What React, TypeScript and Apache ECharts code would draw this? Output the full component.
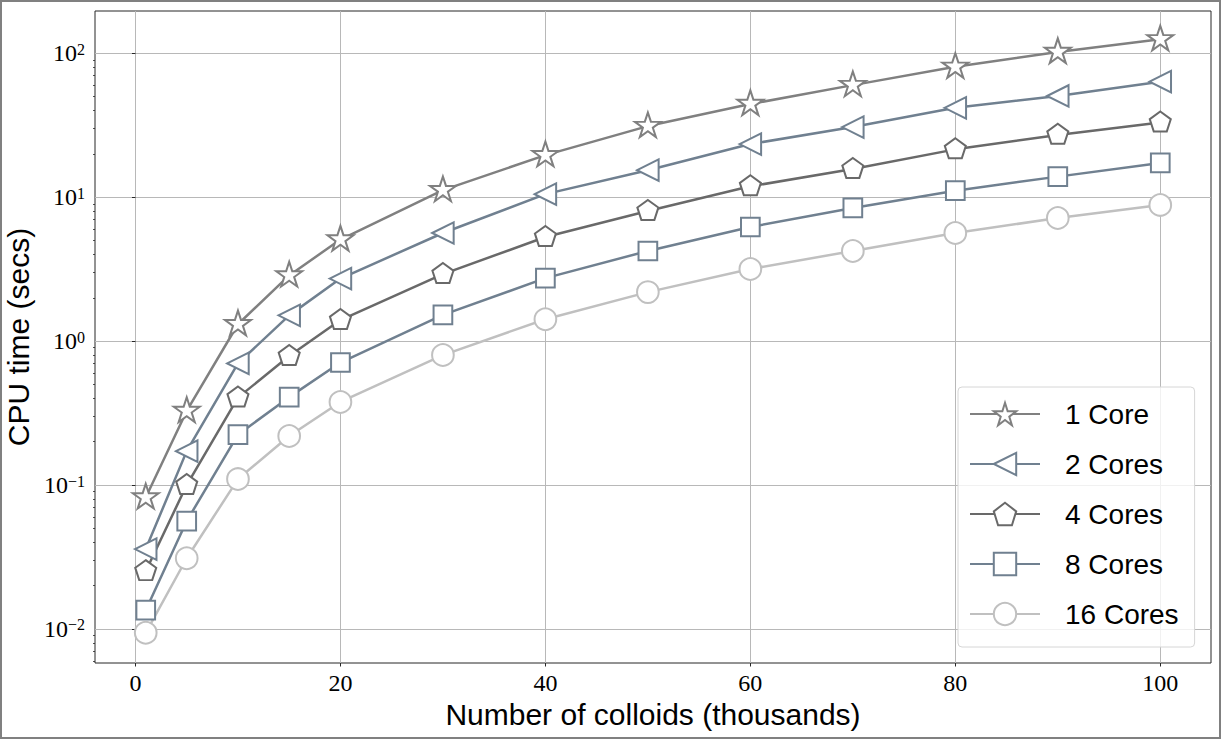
import React, { useEffect, useRef } from 'react';
import * as echarts from 'echarts';

const colloids = [1, 5, 10, 15, 20, 30, 40, 50, 60, 70, 80, 90, 100];
const core1 = [0.082, 0.327, 1.31, 2.86, 5.08, 11.2, 19.6, 31.2, 44.4, 60.1, 80.5, 102, 125];
const core2 = [0.0359, 0.172, 0.70, 1.51, 2.72, 5.64, 10.5, 15.4, 23.4, 30.7, 41.8, 50.5, 63.5];
const core4 = [0.0252, 0.100, 0.405, 0.787, 1.40, 2.92, 5.29, 8.02, 11.9, 15.7, 21.5, 27.1, 33.0];
const core8 = [0.0135, 0.0562, 0.224, 0.408, 0.71, 1.52, 2.74, 4.23, 6.21, 8.42, 11.1, 13.9, 17.3];
const core16 = [0.0094, 0.031, 0.110, 0.219, 0.378, 0.80, 1.42, 2.19, 3.17, 4.23, 5.64, 7.17, 8.84];

const seriesNames = ['1 Core', '2 Cores', '4 Cores', '8 Cores', '16 Cores'];
const seriesValues = [core1, core2, core4, core8, core16];
const seriesColors = ['#808080', '#708090', '#696969', '#708090', '#c0c0c0'];

const xTicks = [0, 20, 40, 60, 80, 100];
const yTicks = [0.01, 0.1, 1, 10, 100];
const yMinorTicks = [
  0.006, 0.007, 0.008, 0.009,
  0.02, 0.03, 0.04, 0.05, 0.06, 0.07, 0.08, 0.09,
  0.2, 0.3, 0.4, 0.5, 0.6, 0.7, 0.8, 0.9,
  2, 3, 4, 5, 6, 7, 8, 9,
  20, 30, 40, 50, 60, 70, 80, 90,
];

const X_MIN = -3.95;
const X_MAX = 104.95;
const Y_MIN = 0.0058;
const Y_MAX = 196.7;

const STAR = 'path://M0,-100 L22.45,-30.9 L95.11,-30.9 L36.33,11.8 L58.78,80.9 L0,38.2 L-58.78,80.9 L-36.33,11.8 L-95.11,-30.9 L-22.45,-30.9 Z';
const PENTAGON = 'path://M0,-100 L95.11,-30.9 L58.78,80.9 L-58.78,80.9 L-95.11,-30.9 Z';
const TRI_LEFT = 'path://M-100,0 L100,-100 L100,100 Z';

const symbols: any[] = [
  { symbol: STAR, size: [26, 24.7], offset: [0, -1.3] },
  { symbol: TRI_LEFT, size: [21.5, 21.5], offset: [0, 0] },
  { symbol: PENTAGON, size: [21, 20], offset: [0, -1.05] },
  { symbol: 'rect', size: 18.7, offset: [0, 0] },
  { symbol: 'circle', size: 21.7, offset: [0, 0] },
];

const SERIF = '"Liberation Serif", "DejaVu Serif", serif';
const SANS = '"Liberation Sans", "DejaVu Sans", sans-serif';
const DARK = '#262626';

function yLabel(v: number): string {
  const e = Math.log10(v);
  const r = Math.round(e);
  if (Math.abs(e - r) > 1e-6) return '';
  const exp = r < 0 ? '\u2212' + String(-r) : String(r);
  return `{b|10}{s|${exp}}`;
}

export default function App() {
  const ref = useRef<HTMLDivElement>(null);
  useEffect(() => {
    if (!ref.current) return;
    const chart = echarts.init(ref.current, undefined, { renderer: 'svg' });
    const option: any = {
      animation: false,
      backgroundColor: '#ffffff',
      grid: {
        left: 95,
        top: 11,
        right: 10,
        bottom: 76,
        show: true,
        borderColor: DARK,
        borderWidth: 1,
        backgroundColor: 'transparent',
        containLabel: false,
        outerBoundsMode: 'none',
      },
      xAxis: {
        type: 'value',
        min: X_MIN,
        max: X_MAX,
        splitNumber: 5,
        name: 'Number of colloids (thousands)',
        nameLocation: 'middle',
        nameGap: 33,
        nameTextStyle: { fontFamily: SANS, fontSize: 30, color: '#000' },
        axisLine: { show: false },
        axisTick: {
          show: true,
          inside: false,
          length: 3.5,
          customValues: xTicks,
          lineStyle: { color: DARK, width: 1 },
        },
        axisLabel: {
          customValues: xTicks,
          margin: 8,
          fontFamily: SERIF,
          fontSize: 24,
          color: '#000',
          formatter: (v: number) => (xTicks.indexOf(v) >= 0 ? String(v) : ''),
        },
        splitLine: {
          show: true,
          lineStyle: { color: '#b8b8b8', width: 1 },
        },
      },
      yAxis: [
        {
          type: 'log',
          logBase: 10,
          min: Y_MIN,
          max: Y_MAX,
          position: 'left',
          name: 'CPU time (secs)',
          nameLocation: 'middle',
          nameGap: 52,
          nameTextStyle: { fontFamily: SANS, fontSize: 30, color: '#000' },
          axisLine: { show: false },
          axisTick: {
            show: true,
            inside: false,
            length: 3.5,
            customValues: yTicks,
            lineStyle: { color: DARK, width: 1 },
          },
          axisLabel: {
            customValues: yTicks,
            margin: 10,
            formatter: yLabel,
            rich: {
              b: { fontFamily: SERIF, fontSize: 24, lineHeight: 24, verticalAlign: 'bottom', color: '#000' },
              s: { fontFamily: SERIF, fontSize: 16, lineHeight: 14, verticalAlign: 'top', color: '#000' },
            },
          },
          splitLine: {
            show: true,
            lineStyle: { color: '#b8b8b8', width: 1 },
          },
          minorTick: { show: false },
        },
        {
          type: 'log',
          logBase: 10,
          min: Y_MIN,
          max: Y_MAX,
          position: 'left',
          axisLine: { show: false },
          axisTick: {
            show: true,
            inside: false,
            length: 2,
            customValues: yMinorTicks,
            lineStyle: { color: DARK, width: 0.8 },
          },
          axisLabel: { show: false },
          splitLine: { show: false },
        },
      ],
      legend: {
        orient: 'vertical',
        left: 958,
        top: 387,
        padding: [13, 16, 19, 11],
        itemWidth: 70,
        itemHeight: 28,
        itemGap: 22,
        backgroundColor: 'rgba(255,255,255,0.8)',
        borderColor: '#d6d6d6',
        borderWidth: 1,
        borderRadius: 4,
        selectedMode: false,
        textStyle: { fontFamily: SANS, fontSize: 28, color: '#000', lineHeight: 28, padding: [0, 0, 0, 20] },
        data: seriesNames,
      },
      series: seriesNames.map((name, i) => ({
        name,
        type: 'line',
        yAxisIndex: 0,
        data: colloids.map((x, j) => [x, seriesValues[i][j]]),
        symbol: symbols[i].symbol,
        symbolSize: symbols[i].size,
        symbolOffset: symbols[i].offset,
        showSymbol: true,
        lineStyle: { color: seriesColors[i], width: 2.5 },
        itemStyle: { color: '#ffffff', borderColor: seriesColors[i], borderWidth: 2 },
        emphasis: { disabled: true },
      })),
      graphic: [
        {
          type: 'rect',
          shape: { x: 1, y: 1, width: 1219, height: 737 },
          style: { fill: 'none', stroke: '#808080', lineWidth: 2 },
          silent: true,
          z: 100,
        },
      ],
    };
    chart.setOption(option);
    return () => chart.dispose();
  }, []);
  return (
    <div
      ref={ref}
      style={{ position: 'absolute', left: 0, top: 0, width: 1221, height: 739 }}
    />
  );
}
